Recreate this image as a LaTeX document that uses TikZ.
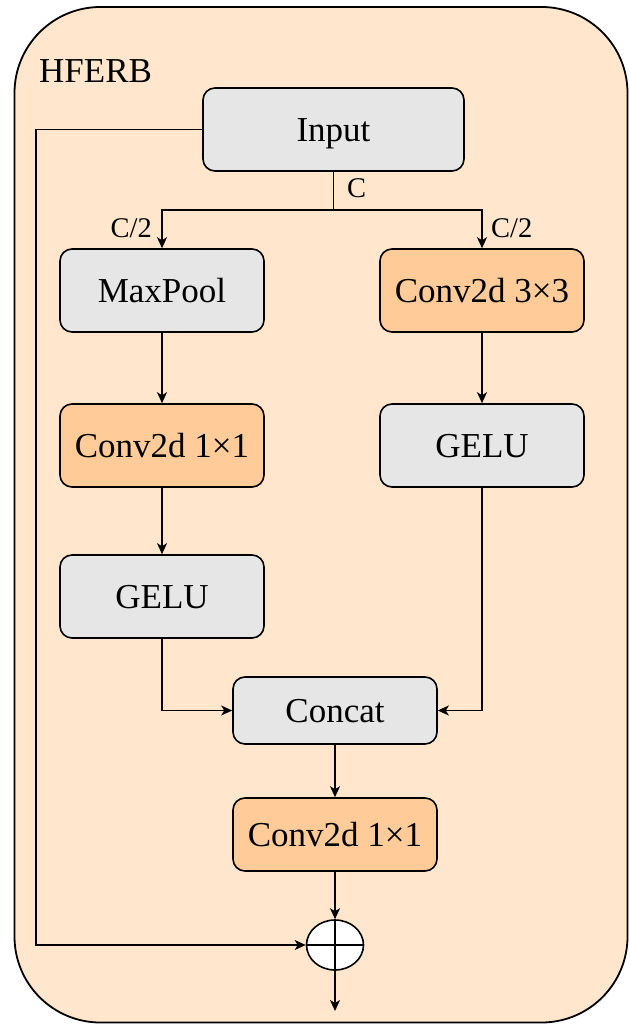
\documentclass[tikz,border=0pt]{standalone}
\usepackage{fontspec}
\setmainfont{Liberation Serif}
\usetikzlibrary{arrows.meta,shapes.geometric}
\definecolor{panelbg}{HTML}{FFE6CC}
\definecolor{graybox}{HTML}{E6E6E6}
\definecolor{orangebox}{HTML}{FFCC99}
\begin{document}
\begin{tikzpicture}[x=1pt,y=-1pt,
  block/.style={draw=black,line width=1.6pt,rounded corners=12pt,minimum width=204pt,
    font=\fontsize{35}{40}\selectfont,inner sep=0pt,text height=24.5pt,text depth=0pt},
  grayblock/.style={block,fill=graybox},
  orangeblock/.style={block,fill=orangebox},
  lbl/.style={font=\fontsize{28.5}{32}\selectfont,inner sep=1pt},
  conn/.style={line width=1.6pt,-{Stealth[length=11pt,width=10pt,inset=3pt]}},
  wire/.style={line width=1.6pt}]
\useasboundingbox (0,0) rectangle (629,1024);
% outer panel
\draw[fill=panelbg,line width=1.8pt,rounded corners=86pt] (14.5,7) rectangle (627.5,1022.5);
\node[anchor=base west,font=\fontsize{35}{40}\selectfont,inner sep=0pt] (title) at (39,83) {HFERB};

% blocks
\node[grayblock,minimum width=261pt,minimum height=83pt] (in) at (333.5,129.5) {Input};
\node[grayblock,minimum height=83pt] (mp) at (162,290.5) {MaxPool};
\node[orangeblock,minimum height=83pt] (c33) at (482,290.5) {Conv2d 3×3};
\node[orangeblock,minimum height=83pt] (c11a) at (162,445.5) {Conv2d 1×1};
\node[grayblock,minimum height=83pt] (gr) at (482,445.5) {GELU};
\node[grayblock,minimum height=83pt] (gl) at (162,596.5) {GELU};
\node[grayblock,minimum height=67pt] (cat) at (335,710.5) {Concat};
\node[orangeblock,minimum height=73pt] (c11b) at (335,834.5) {Conv2d 1×1};
\node[draw=black,fill=white,line width=1.6pt,ellipse,minimum width=57pt,minimum height=50pt,inner sep=0pt] (add) at (335,945) {};
\draw[wire] (add.north) -- (add.south) (add.west) -- (add.east);
\coordinate (out) at (335,1011);

% split of the input channels
\coordinate (split) at (333.5,210);
\draw[wire] (in.south) -- (split);
\draw[conn] (split) -| (mp.north);
\draw[conn] (split) -| (c33.north);
\node[lbl,anchor=west] (lc) at (346,188) {C};
\node[lbl,anchor=east] (lcl) at (153,228) {C/2};
\node[lbl,anchor=west] (lcr) at (490,228) {C/2};

% left branch
\draw[conn] (mp) -- (c11a);
\draw[conn] (c11a) -- (gl);
\draw[conn] (gl.south) |- (cat.west);
% right branch
\draw[conn] (c33) -- (gr);
\draw[conn] (gr.south) |- (cat.east);

% merge and residual
\draw[conn] (cat) -- (c11b);
\draw[conn] (c11b) -- (add);
\draw[conn] (in.west) -- (36,129.5) |- (add.west);
\draw[conn] (add) -- (out);
\end{tikzpicture}
\end{document}
